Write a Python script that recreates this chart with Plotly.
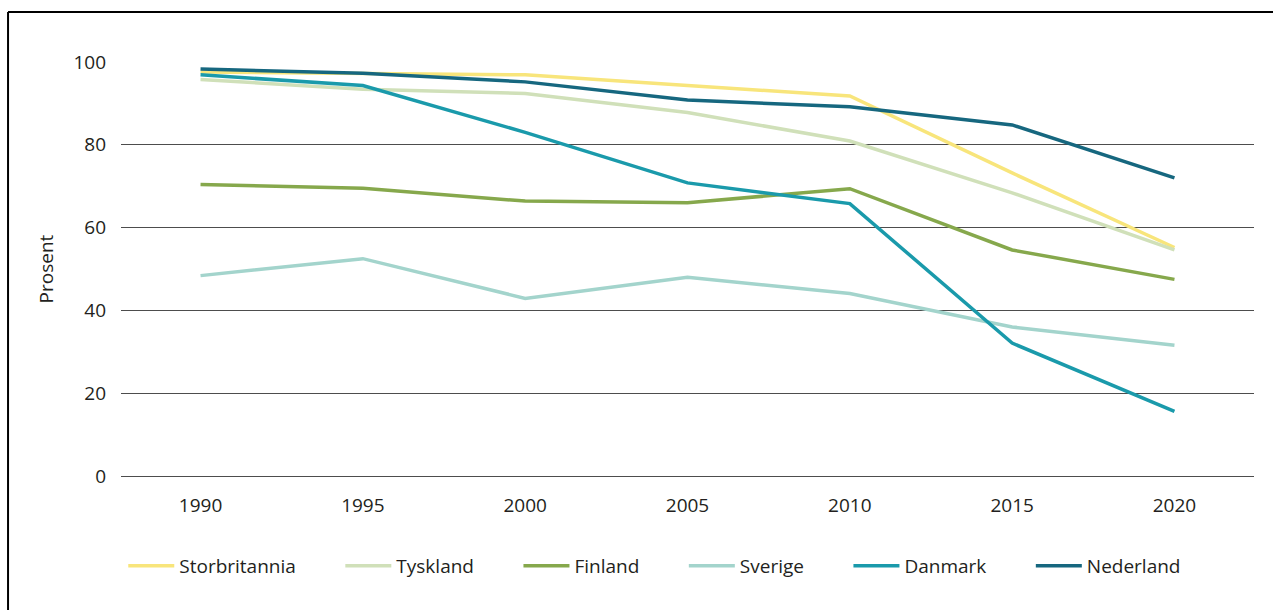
import plotly.graph_objects as go

years = [1990, 1995, 2000, 2005, 2010, 2015, 2020]
series_names = ["Storbritannia", "Tyskland", "Finland", "Sverige", "Danmark", "Nederland"]
storbritannia = [97.6, 97.3, 96.9, 94.3, 91.8, 73.2, 55.2]
tyskland = [95.8, 93.4, 92.4, 87.8, 80.9, 68.4, 54.6]
finland = [70.4, 69.5, 66.4, 66.0, 69.4, 54.6, 47.5]
sverige = [48.4, 52.5, 42.9, 48.0, 44.1, 36.0, 31.6]
danmark = [96.9, 94.3, 83.0, 70.8, 65.8, 32.1, 15.6]
nederland = [98.3, 97.3, 95.2, 90.8, 89.2, 84.8, 72.0]
y_ticks = [0, 20, 40, 60, 80, 100]

values = [storbritannia, tyskland, finland, sverige, danmark, nederland]
colors = ["#F8E57B", "#D0E0B9", "#86A84C", "#A3D4CC", "#1A9AAB", "#16677F"]

FONT = "Open Sans"
TXT = "#231F20"
PAD = "\u00a0" * 8

fig = go.Figure()
for name, vals, col in zip(series_names, values, colors):
    fig.add_trace(go.Scatter(
        x=years, y=vals, mode="lines", name=name + PAD,
        line=dict(color=col, width=3.5),
    ))

fig.update_layout(
    width=1273, height=610,
    margin=dict(l=121, r=19, t=62, b=134),
    paper_bgcolor="white", plot_bgcolor="white",
    font=dict(family=FONT, size=19, color=TXT),
    showlegend=True,
    legend=dict(
        orientation="h", x=0.002, xanchor="left", y=-0.217, yanchor="middle",
        font=dict(family=FONT, size=19, color=TXT),
        itemwidth=46, traceorder="normal", bgcolor="rgba(0,0,0,0)",
    ),
    xaxis=dict(
        range=[1987.55, 2022.45], tickvals=years, ticktext=[str(y) for y in years],
        showgrid=False, zeroline=False, showline=False, ticks="",
        ticklabelstandoff=16,
        tickfont=dict(family=FONT, size=19, color=TXT),
    ),
    yaxis=dict(
        range=[0, 100], tickvals=y_ticks,
        showgrid=True, gridcolor="#4d4d4d", gridwidth=1,
        zeroline=True, zerolinecolor="#4d4d4d", zerolinewidth=1,
        showline=False, ticks="", ticklabelstandoff=14,
        tickfont=dict(family=FONT, size=19, color=TXT),
        title=dict(text="Prosent", standoff=14, font=dict(family=FONT, size=19, color=TXT)),
    ),
    shapes=[
        dict(type="line", xref="paper", yref="paper", x0=-0.0997, x1=-0.0997, y0=1.1208, y1=-0.6,
             line=dict(color="black", width=2)),
        dict(type="line", xref="paper", yref="paper", x0=-0.0997, x1=1.2, y0=1.1208, y1=1.1208,
             line=dict(color="black", width=2)),
    ],
)

fig.write_html("out.html", config={"displayModeBar": False},
               post_script="document.body.style.margin='0';")
